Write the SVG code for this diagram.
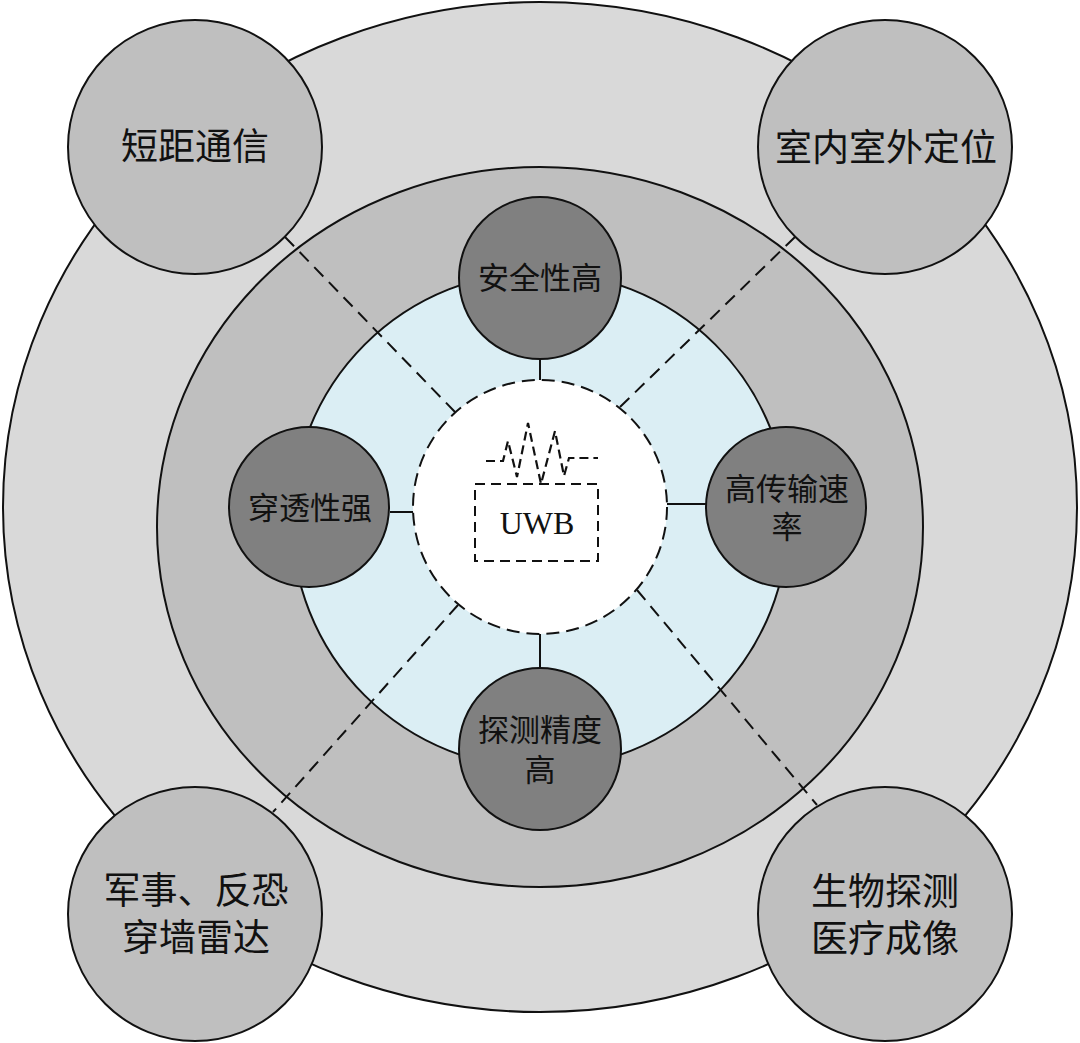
<svg xmlns="http://www.w3.org/2000/svg" width="1080" height="1043" viewBox="0 0 1080 1043">
<style>
.ring{stroke:#111;stroke-width:2}
.inner{fill:#808080;stroke:#111;stroke-width:2}
.outer{fill:#bfbfbf;stroke:#111;stroke-width:2}
.t{font-family:"Noto Sans CJK SC","Noto Sans CJK TC",sans-serif;fill:#111;text-anchor:middle}
.ti{font-size:31px}
.to{font-size:37px}
.solid{stroke:#111;stroke-width:2;fill:none}
.dash{stroke:#111;stroke-width:2;fill:none;stroke-dasharray:13,8}
</style>
<rect width="1080" height="1043" fill="#ffffff"/>
<g id="rings">
<ellipse class="ring" cx="540" cy="507" rx="537" ry="505" fill="#d9d9d9"/>
<ellipse class="ring" cx="540" cy="527" rx="383" ry="360" fill="#bfbfbf"/>
<circle class="ring" cx="540" cy="520" r="248" fill="#dbeef4"/>
</g>
<g id="connectors">
<line class="dash" x1="455" y1="412" x2="285" y2="237"/>
<line class="dash" x1="620" y1="407" x2="795" y2="237"/>
<line class="dash" x1="458" y1="605" x2="273" y2="812"/>
<line class="dash" x1="637" y1="590" x2="817" y2="805"/>
<line class="solid" x1="540" y1="359" x2="540" y2="380"/>
<line class="solid" x1="540" y1="634" x2="540" y2="668"/>
<line class="solid" x1="390" y1="512" x2="413" y2="512"/>
<line class="solid" x1="667" y1="504" x2="706" y2="504"/>
</g>
<g id="uwb">
<circle cx="540" cy="507" r="127" fill="#ffffff" stroke="#111" stroke-width="2" stroke-dasharray="13,7"/>
<rect x="475" y="484" width="123" height="77" fill="none" stroke="#111" stroke-width="2" stroke-dasharray="10,6"/>
<path d="M486,461 L503,461 L508,441 L517,477 L528,423 L541,484 L555,431 L564,476 L569,458 L598,458" fill="none" stroke="#111" stroke-width="2.2" stroke-dasharray="9,5"/>
<text x="537" y="534" font-family="'Liberation Serif',serif" font-size="32" fill="#111" text-anchor="middle">UWB</text>
</g>
<g id="node-security">
<circle class="inner" cx="540" cy="278" r="81"/>
<text class="t ti" x="540" y="289">安全性高</text>
</g>
<g id="node-penetration">
<circle class="inner" cx="309" cy="507" r="80"/>
<text class="t ti" x="310" y="519">穿透性强</text>
</g>
<g id="node-rate">
<circle class="inner" cx="786" cy="507" r="80"/>
<text class="t ti" x="787" y="500">高传输速<tspan x="787" y="538">率</tspan></text>
</g>
<g id="node-precision">
<circle class="inner" cx="540" cy="749" r="81"/>
<text class="t ti" x="540" y="741">探测精度<tspan x="540" y="781">高</tspan></text>
</g>
<g id="node-shortcomm">
<circle class="outer" cx="195" cy="147" r="127"/>
<text class="t to" x="195" y="160">短距通信</text>
</g>
<g id="node-positioning">
<circle class="outer" cx="885" cy="147" r="127"/>
<text class="t to" x="886" y="161">室内室外定位</text>
</g>
<g id="node-radar">
<circle class="outer" cx="195" cy="914" r="127"/>
<text class="t to" x="196" y="904">军事、反恐<tspan x="196" y="951">穿墙雷达</tspan></text>
</g>
<g id="node-bio">
<circle class="outer" cx="885" cy="914" r="127"/>
<text class="t to" x="885" y="905">生物探测<tspan x="885" y="952">医疗成像</tspan></text>
</g>
</svg>
